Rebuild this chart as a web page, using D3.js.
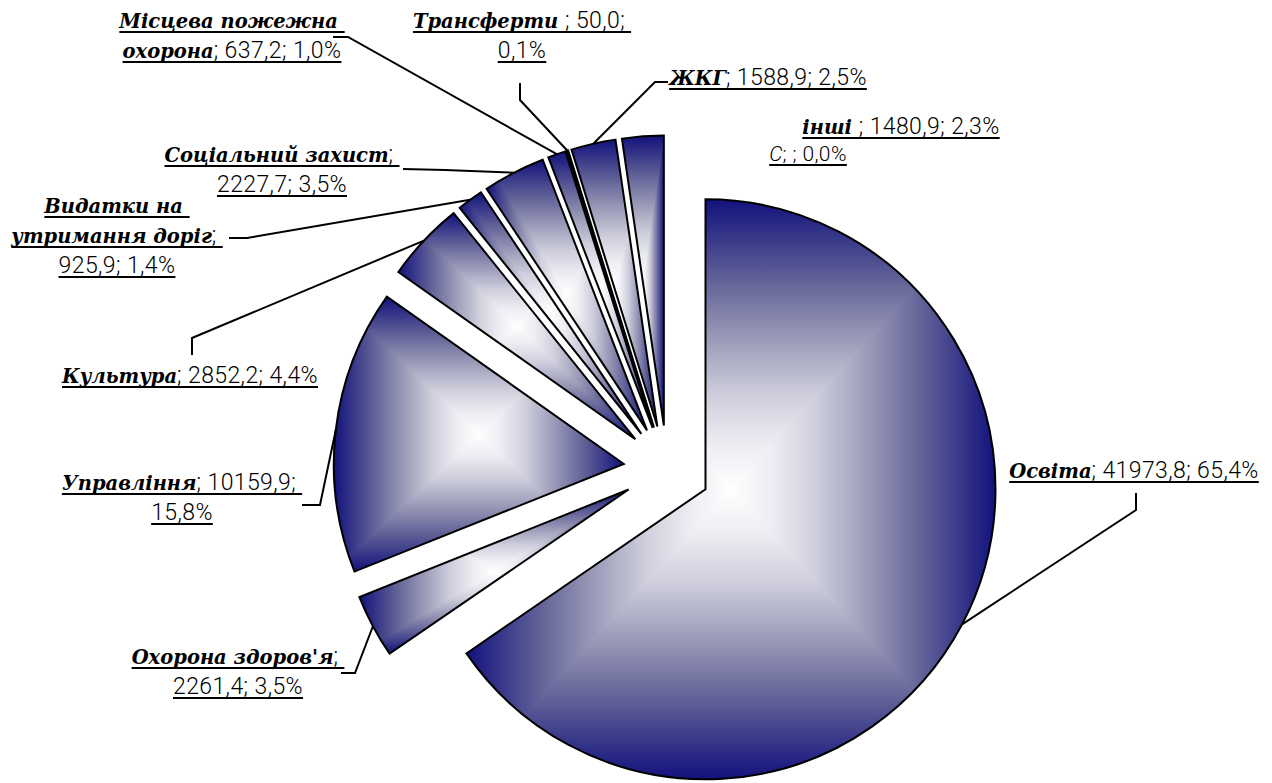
<!DOCTYPE html>
<html><head><meta charset="utf-8">
<script src="https://cdn.jsdelivr.net/npm/d3@7"></script>
<style>body{margin:0;background:#fff}svg{display:block}</style>
</head><body>
<svg id="c" width="1272" height="783"></svg>
<script>
// ---- data ----
const categories = ["Освіта","Охорона здоров'я","Управління","Культура","Видатки на утримання доріг","Соціальний захист","Місцева пожежна охорона","Трансферти ","ЖКГ","інші ","С"];
const values = [41973.8,2261.4,10159.9,2852.2,925.9,2227.7,637.2,50.0,1588.9,1480.9,null];

// ---- layout (label positions, line wrapping by word count, leader bends) ----
const labelLayout = [
  {x:1134, y:478, words:[3],     bold:true, lead:[[1136,493],[1136,510]]},
  {x:238,  y:664, words:[2,2],   bold:true, lead:[[341,673],[355,673]]},
  {x:182,  y:490, words:[2,1],   bold:true, lead:[[302,505],[320,505]]},
  {x:190,  y:383, words:[3],     bold:true, lead:[[192,355],[192,338]]},
  {x:117,  y:213, words:[2,2,2], bold:true, lead:[[229,238],[247,238]]},
  {x:282,  y:162, words:[2,2],   bold:true, lead:[[403,169],[445,170]]},
  {x:232,  y:28,  words:[2,3],   bold:true, lead:[[333,37],[348,37]]},
  {x:522,  y:28,  words:[3,1],   bold:true, lead:[[520,83],[520,100]]},
  {x:768,  y:85,  words:[3],     bold:true, lead:[[668,82],[655,82]]},
  {x:901,  y:134, words:[4],     bold:true, lead:null},
  {x:808,  y:161, words:[3],     bold:false, lead:null}
];

const W=1272,H=783;
const cx=667, cy=469, R=290, explode=43.5, lineH=30;
const svg=d3.select("#c");
const defs=svg.append("defs");

const total=d3.sum(values,v=>v||0);
const fmtNum=v=> v==null ? "" : d3.format(".1f")(v).replace(".",",");
const fmtPct=v=> d3.format(".1f")(100*(v||0)/total).replace(".",",")+"%";

const data=categories.map((c,i)=>({name:c,v:values[i]||0,raw:values[i],i}));
const arcs=d3.pie().sort(null).value(d=>d.v).startAngle(0).endAngle(2*Math.PI)(data);
const arcGen=d3.arc().innerRadius(0).outerRadius(R);

// colour ramp: edge navy -> centre white
const ramp=[[0,"#12127e"],[0.1,"#2e2e86"],[0.28,"#626298"],[0.48,"#9a9ab8"],[0.68,"#cfcfdd"],[0.85,"#ededf3"],[1,"#ffffff"]];
function mirroredStops(grad){
  ramp.forEach(([t,c])=>grad.append("stop").attr("offset",t*0.5).attr("stop-color",c));
  ramp.slice().reverse().forEach(([t,c])=>grad.append("stop").attr("offset",1-t*0.5).attr("stop-color",c));
}
function bbox(a){
  const pts=[[0,0]];
  const p=ang=>[R*Math.sin(ang),-R*Math.cos(ang)];
  pts.push(p(a.startAngle),p(a.endAngle));
  for(let k=0;k<=4;k++){const ang=k*Math.PI/2; if(ang>a.startAngle&&ang<a.endAngle) pts.push(p(ang));}
  return {x0:d3.min(pts,d=>d[0]),x1:d3.max(pts,d=>d[0]),y0:d3.min(pts,d=>d[1]),y1:d3.max(pts,d=>d[1])};
}

const gPie=svg.append("g");
arcs.forEach((a,k)=>{
  if(a.value<=0) return;
  const mid=(a.startAngle+a.endAngle)/2;
  const ux=Math.sin(mid), uy=-Math.cos(mid);
  const g=gPie.append("g").attr("transform",`translate(${cx+explode*ux},${cy+explode*uy})`);
  const b=bbox(a);
  const mx=(b.x0+b.x1)/2, my=(b.y0+b.y1)/2;
  const hg=defs.append("linearGradient").attr("id","hg"+k).attr("gradientUnits","userSpaceOnUse")
    .attr("x1",b.x0).attr("x2",b.x1).attr("y1",0).attr("y2",0);
  mirroredStops(hg);
  const vg=defs.append("linearGradient").attr("id","vg"+k).attr("gradientUnits","userSpaceOnUse")
    .attr("x1",0).attr("x2",0).attr("y1",b.y0).attr("y2",b.y1);
  mirroredStops(vg);
  defs.append("clipPath").attr("id","cp"+k).append("path").attr("d",arcGen(a));
  const fill=g.append("g").attr("clip-path",`url(#cp${k})`);
  fill.append("rect").attr("x",b.x0-1).attr("y",b.y0-1).attr("width",b.x1-b.x0+2).attr("height",b.y1-b.y0+2).attr("fill",`url(#hg${k})`);
  fill.append("path").attr("d",`M${b.x0},${b.y0}L${b.x1},${b.y0}L${mx},${my}Z M${b.x0},${b.y1}L${b.x1},${b.y1}L${mx},${my}Z`).attr("fill",`url(#vg${k})`);
  g.append("path").attr("d",arcGen(a)).attr("fill","none").attr("stroke","#000").attr("stroke-width",2).attr("stroke-linejoin","miter");
});

// leaders
arcs.forEach((a,k)=>{
  const L=labelLayout[k]; if(!L.lead||a.value<=0) return;
  const mid=(a.startAngle+a.endAngle)/2;
  const end=[cx+(explode+R)*Math.sin(mid), cy-(explode+R)*Math.cos(mid)];
  svg.append("path").attr("d",d3.line()([...L.lead,end])).attr("fill","none").attr("stroke","#000").attr("stroke-width",2);
});

// labels
const gLab=svg.append("g");
data.forEach((d,k)=>{
  const L=labelLayout[k];
  const full=d.name+"; "+fmtNum(d.raw)+"; "+fmtPct(d.v);
  const nameLen=d.name.length;
  const toks=[...full.matchAll(/\S+/g)].map(m=>({s:m.index,e:m.index+m[0].length}));
  let ti=0;
  L.words.forEach((n,li)=>{
    const s=toks[ti].s, e=toks[ti+n-1].e; ti+=n;
    const last=li===L.words.length-1;
    const lineStr=full.slice(s,e)+(last?"":" ");
    const y=L.y+li*lineH;
    const t=gLab.append("text").attr("x",L.x).attr("y",y).attr("text-anchor","middle").style("white-space","pre").attr("fill","#000");
    const cut=Math.max(0,Math.min(lineStr.length,nameLen-s));
    if(cut>0){
      t.append("tspan").text(lineStr.slice(0,cut))
        .attr("font-family",L.bold?"'DejaVu Serif'":"Roboto").attr("font-weight",L.bold?"bold":"300")
        .attr("font-style","italic").attr("font-size",L.bold?19.5:21);
    }
    if(cut<lineStr.length){
      t.append("tspan").text(lineStr.slice(cut)).attr("font-family","Roboto").attr("font-weight",300)
        .attr("font-size",L.bold?23:21).attr("letter-spacing",0.4);
    }
    const len=t.node().getComputedTextLength();
    gLab.append("line").attr("x1",L.x-len/2).attr("x2",L.x+len/2).attr("y1",y+4).attr("y2",y+4).attr("stroke","#000").attr("stroke-width",2);
  });
});
</script>
</body></html>
